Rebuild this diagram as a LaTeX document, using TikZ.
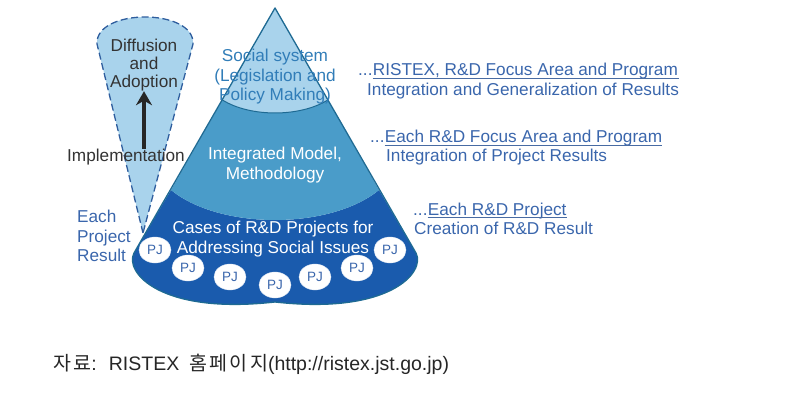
\documentclass[tikz,border=0pt]{standalone}
\usepackage{fontspec}
\setmainfont{Liberation Sans}
\newfontfamily\krfont[LetterSpace=12]{Noto Sans CJK KR}
\usetikzlibrary{arrows.meta,positioning,shapes.geometric}
\definecolor{skyfill}{HTML}{A9D3EC}
\definecolor{midfill}{HTML}{4A9CC9}
\definecolor{deepfill}{HTML}{1A5BAD}
\definecolor{edgeblue}{HTML}{1E6A93}
\definecolor{labelblue}{HTML}{3A66AC}
\definecolor{dashblue}{HTML}{2F5E9E}

\begin{document}
\begin{tikzpicture}[x=1pt,y=-1pt,
      every node/.style={font=\fontsize{17.2}{19.5}\selectfont,inner sep=0pt},
      arr/.style={-{Stealth[length=14pt,width=16pt]},line width=3.2pt},
      pj/.style={ellipse,fill=white,draw=white!85!deepfill,minimum width=32pt,minimum height=26pt,text=labelblue,font=\fontsize{13.5}{13.5}\selectfont},
      lbl/.style={text=labelblue,anchor=base west},
      uline/.style={draw=labelblue!80!gray,line width=1.1pt}
    ]
      \useasboundingbox (0,0) rectangle (794,403);

      % diffusion cone
      \draw[dashblue,fill=skyfill,line width=1.3pt,dash pattern=on 7pt off 3.5pt]
        (143,233) -- (97,44) .. controls (95,8) and (195,8) .. (193,44) -- cycle;

      % pyramid layers
      \fill[deepfill] (171,190) .. controls (220,230) and (330,230) .. (379,190)
        -- (416,253) .. controls (426,272) and (390,315) .. (275,302)
        .. controls (160,315) and (124,272) .. (134,253) -- cycle;
      \fill[midfill] (222.5,100) .. controls (250,117.3) and (300,117.3) .. (327.8,100)
        -- (379,190) .. controls (330,230) and (220,230) .. (171,190) -- cycle;
      \fill[skyfill] (275,8) -- (327.8,100) .. controls (300,117.3) and (250,117.3) .. (222.5,100) -- cycle;
      \draw[edgeblue,line width=1pt] (222.5,100) .. controls (250,117.3) and (300,117.3) .. (327.8,100);
      \draw[edgeblue,line width=1.3pt,line join=round]
        (275,8) -- (416,253) .. controls (426,272) and (390,315) .. (275,302)
        .. controls (160,315) and (124,272) .. (134,253) -- cycle;

      % texts on the left
      \node[align=center,text=black!80,font=\fontsize{17.2}{18}\selectfont] (diff) at (144,65) {Diffusion\\and\\Adoption};
      \node[text=black!80] (impl) at (126,157) {Implementation};
      \draw[arr,black!85] (impl.north -| diff.south) -- (diff.south);
      \node[align=left,text=labelblue,anchor=west] (each) at (77,236) {Each\\Project\\Result};

      % texts in the pyramid
      \node[align=center,text=labelblue!85!cyan] (soc) at (275,77) {Social system\\(Legislation and\\Policy Making)};
      \node[align=center,text=white] (mod) at (275,165) {Integrated Model,\\Methodology};
      \node[align=center,text=white] (cases) at (273,239) {Cases of R\&D Projects for\\Addressing Social Issues};

      \foreach \px/\py/\n in {155/250/1,188/268/2,230/277/3,275/285/4,315/277/5,357/268/6,390/250/7}
        \node[pj] (pj\n) at (\px,\py) {PJ};

      % levels on the right
      \node[lbl] (d1) at (358,76) {...};
      \node[lbl,right=0pt of d1.base east,anchor=base west] (t1) {RISTEX, R\&D Focus Area and Program};
      \node[lbl] (b1) at (367,96) {Integration and Generalization of Results};
      \draw[uline] ([yshift=1.5pt]t1.south west) -- ([yshift=1.5pt]t1.south west -| b1.east);

      \node[lbl] (d2) at (370,143) {...};
      \node[lbl,right=0pt of d2.base east,anchor=base west] (t2) {Each R\&D Focus Area and Program};
      \node[lbl] (b2) at (386,162) {Integration of Project Results};
      \draw[uline] ([yshift=1.5pt]t2.south west) -- ([yshift=1.5pt]t2.south east);

      \node[lbl] (d3) at (413,215) {...\ };
      \node[lbl,right=0pt of d3.base east,anchor=base west] (t3) {Each R\&D Project};
      \node[lbl] (b3) at (414,234) {Creation of R\&D Result};
      \draw[uline] ([yshift=1.5pt]t3.south west) -- ([yshift=1.5pt]t3.south east);

      % source
      \node[anchor=base west,text=black!85,font=\fontsize{19.5}{19.5}\selectfont] (src) at (53,370)
        {{\krfont\fontsize{19.5}{19.5}\selectfont 자료}:\hspace{12pt}RISTEX\hspace{10pt}{\krfont\fontsize{19.5}{19.5}\selectfont 홈페이지}(http://ristex.jst.go.jp)};
    \end{tikzpicture}
\end{document}
